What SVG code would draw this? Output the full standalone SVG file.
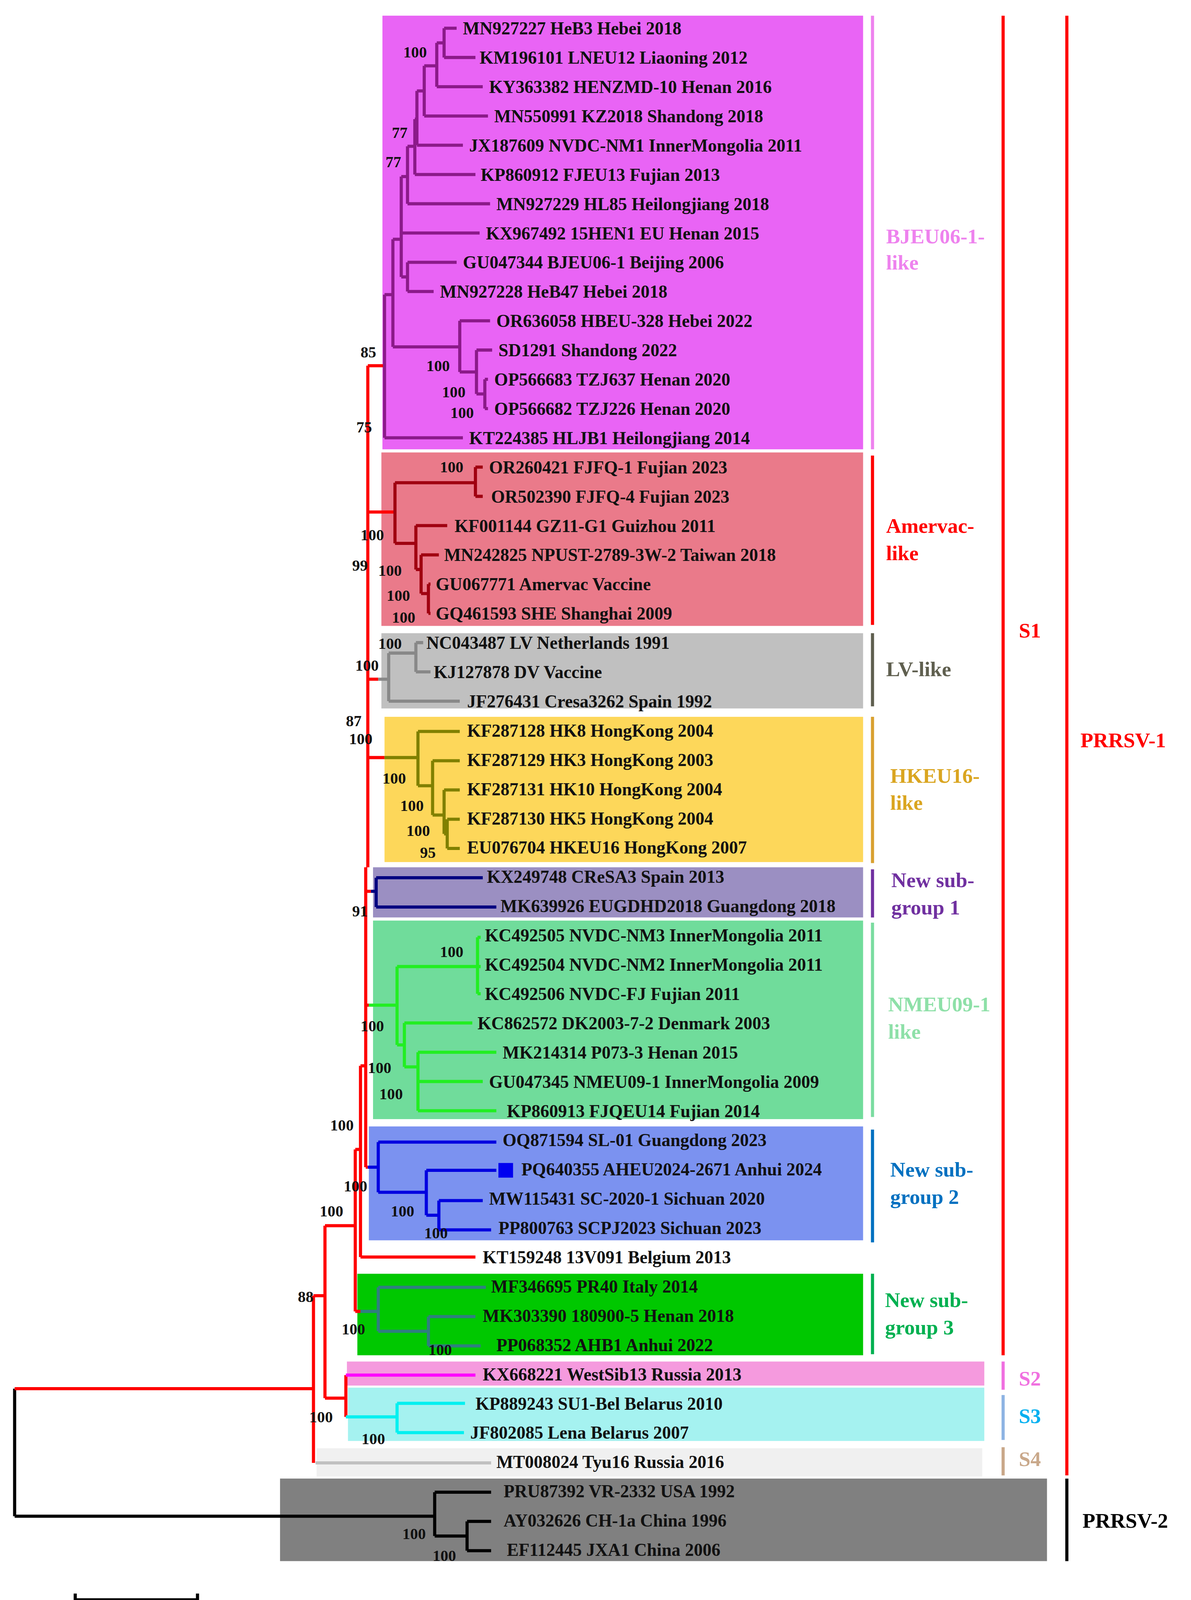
<svg xmlns="http://www.w3.org/2000/svg" width="3049" height="4179" viewBox="0 0 3049 4179">
<style>
text{font-family:"Liberation Serif",serif;font-weight:bold}
.l{font-size:17px;fill:#111}
.b{font-size:15px;fill:#111}
.g{font-size:20px}
path{fill:none;stroke-width:3}
.bar{stroke-width:3}
</style>
<rect width="3049" height="4179" fill="#fff"/>
<g transform="scale(2.675)">
<g id="boxes">
<rect x="366" y="15" width="460" height="415" fill="#e964f5"/>
<rect x="365" y="433" width="461" height="166" fill="#ea7a8a"/>
<rect x="365" y="606" width="461" height="72" fill="#c0c0c0"/>
<rect x="368" y="686" width="458" height="139" fill="#fdd75a"/>
<rect x="357" y="830" width="469" height="48" fill="#9b8fc2"/>
<rect x="357" y="881" width="469" height="190" fill="#70dc9b"/>
<rect x="353" y="1078" width="473" height="109" fill="#7b92f0"/>
<rect x="342" y="1219" width="484" height="78" fill="#00c800"/>
<rect x="332" y="1303" width="610" height="23" fill="#f59ade"/>
<rect x="333" y="1328" width="609" height="51" fill="#a5f2f0"/>
<rect x="303" y="1386" width="637" height="27" fill="#f0f0f0"/>
<rect x="268" y="1415" width="734" height="79" fill="#808080"/>
</g>
<g id="connectors">
<path stroke="#000" stroke-width="1.2" d="M14 1329V1451"/>
<path stroke="#f00" d="M14 1329H300M300 1240V1400M300 1240H311M311 1173V1338M311 1338H331M331 1316V1356M311 1173H340M340 1100V1255M340 1255H345M340 1100H345M345 1020V1203M345 1203H455M345 1020H350M350 830V1117M352 350V830M352 490H378M352 650H362M352 725H368M350 853H355M350 962H353M350 1117H352M352 350H368"/>
<path stroke="#8b1a89" d="M368 282V419M368 419H443M368 282H376M376 229V332M376 229H384M384 169V265M384 223H459M384 265H390M390 251V279M390 251H437M390 279H415M384 169H390M390 140V195M390 195H469M390 140H397M397 114V167M397 167H455M397 114H399M399 87V139M399 139H443M399 87H406M406 63V111M406 111H467M406 63H418M418 41V83M418 83H462M418 41H425M425 27V55M425 27H437M425 55H455M376 332H440M440 307V356M440 307H469M440 356H456M456 335V377M456 335H471M456 377H464M464 363V391M464 363H467M464 391H467"/>
<path stroke="#a00010" d="M378 462V520M378 462H455M455 447V475M455 447H462M455 475H462M378 520H398M398 503V545M398 503H428M398 545H403M403 531V568M403 531H420M403 568H410M410 559V587M410 559H412M410 587H412"/>
<path stroke="#888" d="M362 650H372M372 625V671M372 671H440M372 625H398M398 615V643M398 615H405M398 643H412"/>
<path stroke="#808000" d="M368 725H400M400 700V752M400 700H440M400 752H414M414 728V780M414 728H440M414 780H425M425 756V798M425 756H440M425 798H428M428 784V812M428 784H440M428 812H440"/>
<path stroke="#000080" d="M355 853H360M360 840V868M360 840H462M360 868H475"/>
<path stroke="#22ee22" d="M353 962H380M380 925V1000M380 925H457M457 897V951M457 897H460M457 925H460M457 951H460M380 1000H387M387 979V1021M387 979H452M387 1021H400M400 1007V1063M400 1007H475M400 1035H462M400 1063H475"/>
<path stroke="#0000e0" d="M352 1117H362M362 1093V1141M362 1093H475M362 1141H408M408 1120V1163M408 1120H475M408 1163H420M420 1149V1177M420 1149H462M420 1177H470"/>
<path stroke="#2f7f7f" d="M345 1255H362M362 1232V1274M362 1232H465M362 1274H410M410 1260V1288M410 1260H455M410 1288H460"/>
<path stroke="#ff00ff" d="M331 1316H455"/>
<path stroke="#00f0f0" d="M331 1356H380M380 1343V1371M380 1343H445M380 1371H444"/>
<path stroke="#c0c0c0" d="M302 1400H470"/>
<path stroke="#000" d="M14 1451H416M416 1428V1470M416 1428H470M416 1470H447M447 1456V1484M447 1456H470M447 1484H470"/>
<path stroke="#000" stroke-width="1.2" d="M72 1531H189M72 1525V1537M189 1525V1537"/>
</g>
<g id="bars" class="bar">
<path stroke="#ee82ee" d="M835 15V430"/>
<path stroke="#f00" d="M835 436V598"/>
<path stroke="#5f5f4f" d="M835 606V676"/>
<path stroke="#d9a030" d="M835 686V826"/>
<path stroke="#7030a0" d="M835 832V878"/>
<path stroke="#7adca0" d="M835 883V1069"/>
<path stroke="#0070c0" d="M835 1081V1189"/>
<path stroke="#00b050" d="M835 1219V1296"/>
<path stroke="#f00" d="M960 15V1297"/>
<path stroke="#f070e0" d="M960 1303V1330"/>
<path stroke="#8eb4e3" d="M960 1335V1378"/>
<path stroke="#c9a88a" d="M960 1385V1412"/>
<path stroke="#f00" d="M1021 15V1412"/>
<path stroke="#000" d="M1021 1415V1494"/>
</g>
<rect x="477" y="1113" width="14" height="14" fill="#0000f0"/>
<g id="leaves" class="l">
<text x="443" y="33">MN927227 HeB3 Hebei 2018</text>
<text x="459" y="61">KM196101 LNEU12 Liaoning 2012</text>
<text x="468" y="89">KY363382 HENZMD-10 Henan 2016</text>
<text x="473" y="117">MN550991 KZ2018 Shandong 2018</text>
<text x="449" y="145">JX187609 NVDC-NM1 InnerMongolia 2011</text>
<text x="460" y="173">KP860912 FJEU13 Fujian 2013</text>
<text x="475" y="201">MN927229 HL85 Heilongjiang 2018</text>
<text x="465" y="229">KX967492 15HEN1 EU Henan 2015</text>
<text x="443" y="257">GU047344 BJEU06-1 Beijing 2006</text>
<text x="421" y="285">MN927228 HeB47 Hebei 2018</text>
<text x="475" y="313">OR636058 HBEU-328 Hebei 2022</text>
<text x="477" y="341">SD1291 Shandong 2022</text>
<text x="473" y="369">OP566683 TZJ637 Henan 2020</text>
<text x="473" y="397">OP566682 TZJ226 Henan 2020</text>
<text x="449" y="425">KT224385 HLJB1 Heilongjiang 2014</text>
<text x="468" y="453">OR260421 FJFQ-1 Fujian 2023</text>
<text x="470" y="481">OR502390 FJFQ-4 Fujian 2023</text>
<text x="435" y="509">KF001144 GZ11-G1 Guizhou 2011</text>
<text x="425" y="537">MN242825 NPUST-2789-3W-2 Taiwan 2018</text>
<text x="417" y="565">GU067771 Amervac Vaccine</text>
<text x="417" y="593">GQ461593 SHE Shanghai 2009</text>
<text x="408" y="621">NC043487 LV Netherlands 1991</text>
<text x="415" y="649">KJ127878 DV Vaccine</text>
<text x="447" y="677">JF276431 Cresa3262 Spain 1992</text>
<text x="447" y="705">KF287128 HK8 HongKong 2004</text>
<text x="447" y="733">KF287129 HK3 HongKong 2003</text>
<text x="447" y="761">KF287131 HK10 HongKong 2004</text>
<text x="447" y="789">KF287130 HK5 HongKong 2004</text>
<text x="447" y="817">EU076704 HKEU16 HongKong 2007</text>
<text x="466" y="845">KX249748 CReSA3 Spain 2013</text>
<text x="479" y="873">MK639926 EUGDHD2018 Guangdong 2018</text>
<text x="464" y="901">KC492505 NVDC-NM3 InnerMongolia 2011</text>
<text x="464" y="929">KC492504 NVDC-NM2 InnerMongolia 2011</text>
<text x="464" y="957">KC492506 NVDC-FJ Fujian 2011</text>
<text x="457" y="985">KC862572 DK2003-7-2 Denmark 2003</text>
<text x="481" y="1013">MK214314 P073-3 Henan 2015</text>
<text x="468" y="1041">GU047345 NMEU09-1 InnerMongolia 2009</text>
<text x="485" y="1069">KP860913 FJQEU14 Fujian 2014</text>
<text x="481" y="1097">OQ871594 SL-01 Guangdong 2023</text>
<text x="499" y="1125">PQ640355 AHEU2024-2671 Anhui 2024</text>
<text x="468" y="1153">MW115431 SC-2020-1 Sichuan 2020</text>
<text x="477" y="1181">PP800763 SCPJ2023 Sichuan 2023</text>
<text x="462" y="1209">KT159248 13V091 Belgium 2013</text>
<text x="470" y="1237">MF346695 PR40 Italy 2014</text>
<text x="462" y="1265">MK303390 180900-5 Henan 2018</text>
<text x="475" y="1293">PP068352 AHB1 Anhui 2022</text>
<text x="462" y="1321">KX668221 WestSib13 Russia 2013</text>
<text x="455" y="1349">KP889243 SU1-Bel Belarus 2010</text>
<text x="450" y="1377">JF802085 Lena Belarus 2007</text>
<text x="475" y="1405">MT008024 Tyu16 Russia 2016</text>
<text x="482" y="1433">PRU87392 VR-2332 USA 1992</text>
<text x="482" y="1461">AY032626 CH-1a China 1996</text>
<text x="485" y="1489">EF112445 JXA1 China 2006</text>
</g>
<g id="support" class="b">
<text x="386" y="55">100</text><text x="375" y="132">77</text><text x="369" y="160">77</text>
<text x="345" y="342">85</text><text x="408" y="355">100</text><text x="423" y="380">100</text><text x="431" y="400">100</text>
<text x="341" y="414">75</text><text x="421" y="452">100</text><text x="345" y="517">100</text><text x="337" y="546">99</text>
<text x="362" y="551">100</text><text x="370" y="575">100</text><text x="375" y="596">100</text>
<text x="362" y="621">100</text><text x="340" y="642">100</text><text x="331" y="695">87</text><text x="334" y="712">100</text>
<text x="366" y="750">100</text><text x="383" y="776">100</text><text x="389" y="800">100</text><text x="402" y="821">95</text>
<text x="337" y="877">91</text><text x="421" y="916">100</text><text x="345" y="987">100</text><text x="352" y="1027">100</text><text x="363" y="1052">100</text>
<text x="316" y="1082">100</text><text x="329" y="1140">100</text><text x="374" y="1164">100</text><text x="406" y="1185">100</text>
<text x="306" y="1164">100</text><text x="285" y="1246">88</text><text x="327" y="1277">100</text><text x="410" y="1297">100</text>
<text x="296" y="1361">100</text><text x="346" y="1382">100</text><text x="385" y="1473">100</text><text x="414" y="1494">100</text>
<text x="122" y="1552" style="font-size:11px;font-weight:normal">0.1</text>
</g>
<g id="groups" class="g">
<text x="848" y="233" fill="#ee82ee">BJEU06-1-</text><text x="848" y="258" fill="#ee82ee">like</text>
<text x="848" y="510" fill="#f00">Amervac-</text><text x="848" y="536" fill="#f00">like</text>
<text x="848" y="647" fill="#5f5f4f">LV-like</text>
<text x="852" y="749" fill="#daa520">HKEU16-</text><text x="852" y="775" fill="#daa520">like</text>
<text x="853" y="849" fill="#7030a0">New sub-</text><text x="853" y="875" fill="#7030a0">group 1</text>
<text x="850" y="968" fill="#8ee0a8">NMEU09-1</text><text x="850" y="994" fill="#8ee0a8">like</text>
<text x="852" y="1126" fill="#0070c0">New sub-</text><text x="852" y="1152" fill="#0070c0">group 2</text>
<text x="847" y="1251" fill="#00b050">New sub-</text><text x="847" y="1277" fill="#00b050">group 3</text>
<text x="975" y="610" fill="#f00">S1</text>
<text x="975" y="1326" fill="#f070e0">S2</text>
<text x="975" y="1362" fill="#00b0f0">S3</text>
<text x="975" y="1403" fill="#c9a88a">S4</text>
<text x="1034" y="715" fill="#f00">PRRSV-1</text>
<text x="1036" y="1462" fill="#000">PRRSV-2</text>
</g>
</g>
</svg>
